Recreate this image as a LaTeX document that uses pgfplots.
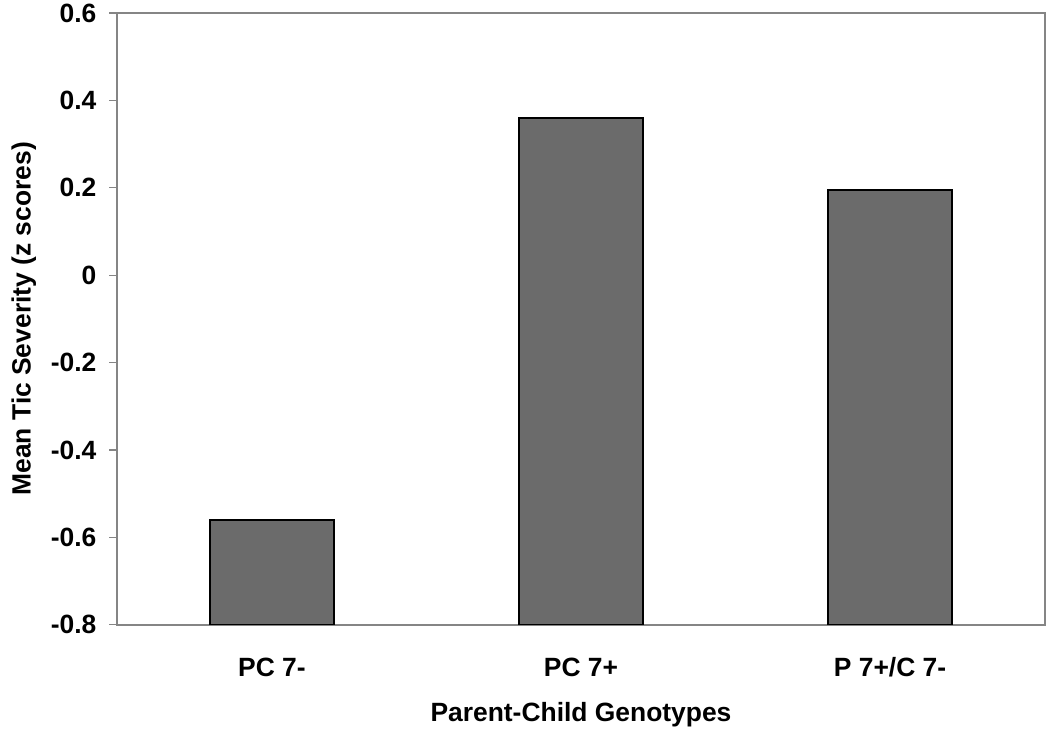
\documentclass[border=0pt]{standalone}
\usepackage{fontspec}
\setmainfont{Liberation Sans}
\usepackage{pgfplots}
\pgfplotsset{compat=1.18}
\definecolor{barfill}{HTML}{6B6B6B}
\definecolor{axgray}{HTML}{858585}
\begin{document}
\begin{tikzpicture}
\begin{axis}[
  at={(0,0)}, anchor=south west,
  scale only axis,
  width=463.3pt, height=305.7pt,
  xmin=-0.5, xmax=2.5,
  ymin=-0.8, ymax=0.6,
  y coord trafo/.code={\pgfmathparse{#1+0.8}},
  y coord inv trafo/.code={\pgfmathparse{#1-0.8}},
  ytick={-0.8,-0.6,-0.4,-0.2,0,0.2,0.4,0.6},
  yticklabels={-0.8,-0.6,-0.4,-0.2,0,0.2,0.4,0.6},
  xtick={0,1,2},
  xticklabels={PC 7-,PC 7+,P 7+/C 7-},
  extra x ticks={-0.5,0.5,1.5,2.5},
  extra x tick labels={},
  extra x tick style={major tick length=4pt, tick style={axgray, line width=0.6pt}},
  major x tick style={draw=none},
  tick align=outside,
  major tick length=4pt,
  tick style={axgray, line width=0.6pt},
  xtick pos=bottom, ytick pos=left,
  axis line style={axgray, line width=0.9pt},
  tick label style={font=\fontsize{13.2}{15}\selectfont\bfseries},
  xticklabel style={anchor=center, yshift=-17.15pt},
  yticklabel style={anchor=east, xshift=-3pt},
  label style={font=\fontsize{13.2}{15}\selectfont\bfseries},
  xlabel={Parent-Child Genotypes},
  ylabel={Mean Tic Severity (z scores)},
  xlabel style={at={(axis description cs:0.5,-0.1478)}, anchor=center},
  ylabel style={at={(axis description cs:-0.101,0.5)}, anchor=center, rotate=0},
  ybar, bar width=62pt, bar shift=0pt,
]
\addplot[fill=barfill, draw=black, line width=0.8pt] coordinates {(0,-0.56) (1,0.36) (2,0.195)};
\end{axis}
\pgfresetboundingbox
\path (-58.65pt,-55.65pt) rectangle (466pt,312.15pt);
\end{tikzpicture}
\end{document}
